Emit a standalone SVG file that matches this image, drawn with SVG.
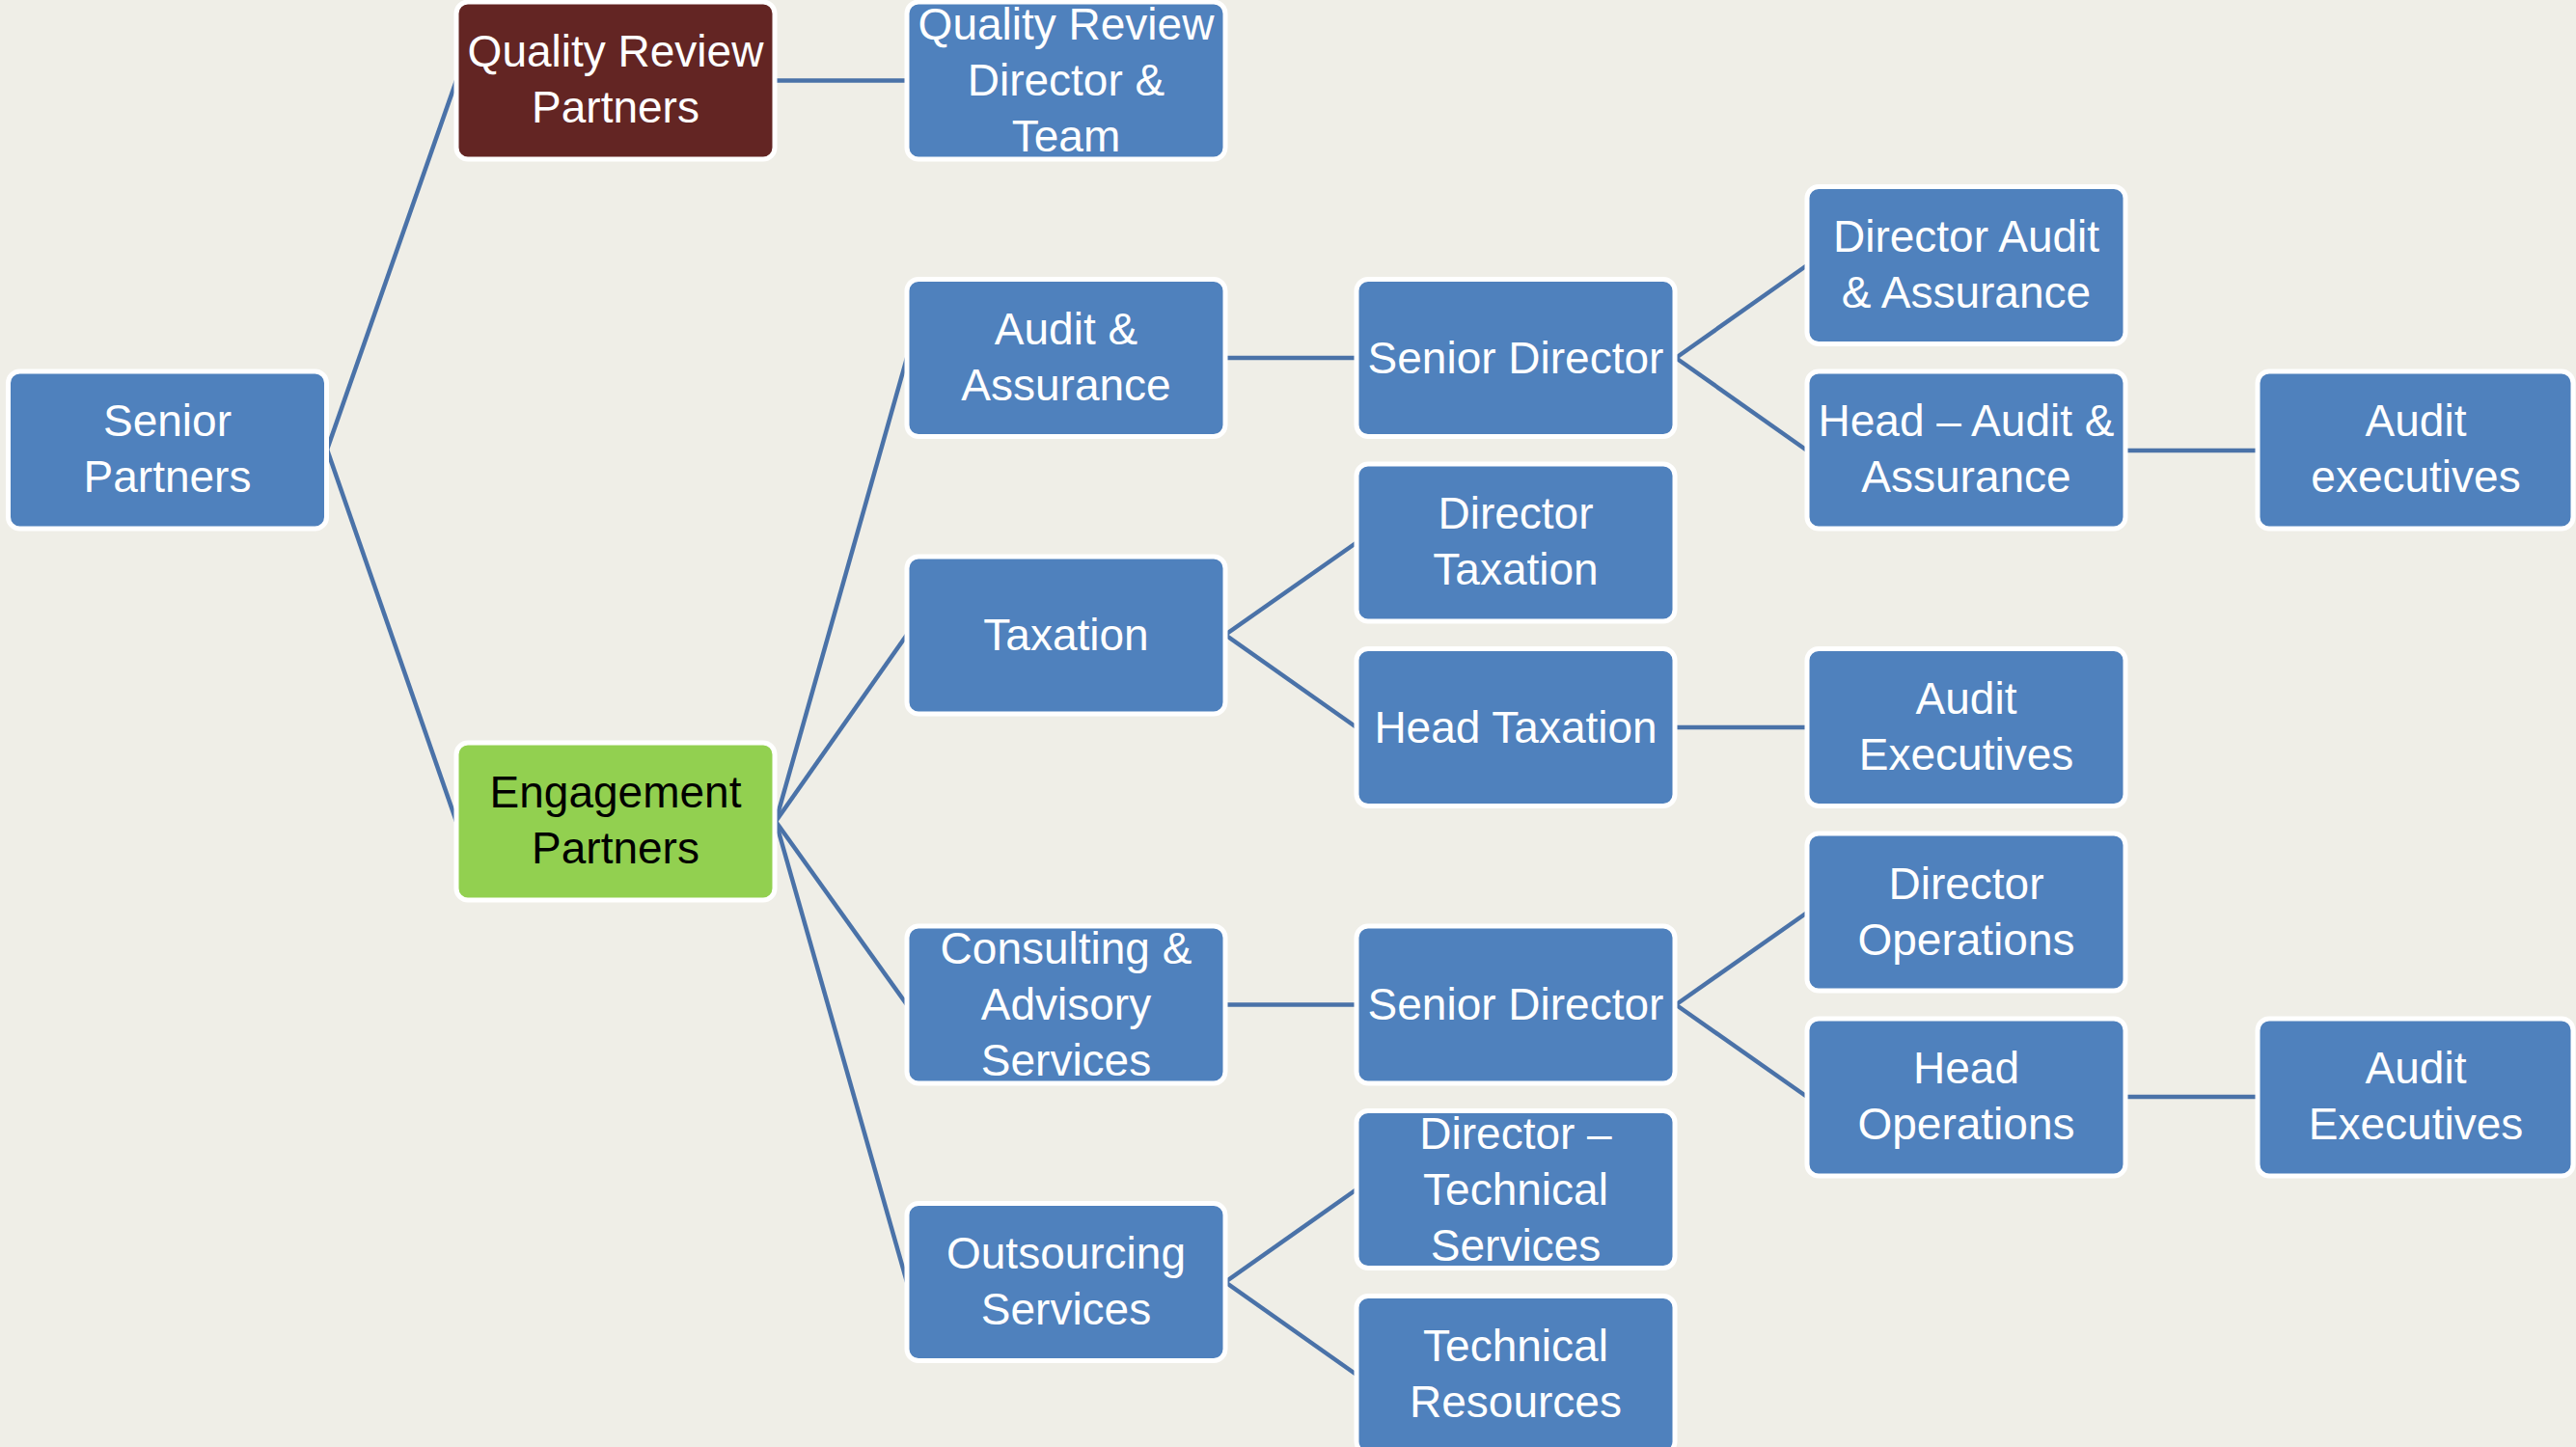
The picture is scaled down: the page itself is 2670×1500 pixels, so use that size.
<svg xmlns="http://www.w3.org/2000/svg" width="2670" height="1500" viewBox="0 0 2670 1500">
<style>
.b{fill:#4F81BD;stroke:#FFFFFF;stroke-width:5}
.r{fill:#632523;stroke:#FFFFFF;stroke-width:5}
.g{fill:#92D050;stroke:#FFFFFF;stroke-width:5}
text{font-family:"Liberation Sans",Arial,sans-serif;font-size:46px;fill:#FFFFFF;text-anchor:middle}
.k{fill:#000000}
.c line{stroke:#4A72A8;stroke-width:4.5}
</style>
<rect width="2670" height="1500" fill="#EFEEE7"/>
<g class="c" id="connectors">
<line x1="339" y1="466" x2="473" y2="83.5"/>
<line x1="339" y1="466" x2="473" y2="851.5"/>
<line x1="804" y1="83.5" x2="940" y2="83.5"/>
<line x1="804" y1="851.5" x2="940" y2="371"/>
<line x1="804" y1="851.5" x2="940" y2="658"/>
<line x1="804" y1="851.5" x2="940" y2="1041.5"/>
<line x1="804" y1="851.5" x2="940" y2="1329"/>
<line x1="1270" y1="371" x2="1406" y2="371"/>
<line x1="1270" y1="658" x2="1406" y2="562.5"/>
<line x1="1270" y1="658" x2="1406" y2="754"/>
<line x1="1270" y1="1041.5" x2="1406" y2="1041.5"/>
<line x1="1270" y1="1329" x2="1406" y2="1233"/>
<line x1="1270" y1="1329" x2="1406" y2="1425"/>
<line x1="1737" y1="371" x2="1873" y2="275"/>
<line x1="1737" y1="371" x2="1873" y2="467"/>
<line x1="2203" y1="467" x2="2340" y2="467"/>
<line x1="1737" y1="754" x2="1873" y2="754"/>
<line x1="1737" y1="1041.5" x2="1873" y2="946"/>
<line x1="1737" y1="1041.5" x2="1873" y2="1137"/>
<line x1="2203" y1="1137" x2="2340" y2="1137"/>
</g>
<g id="senior-partners"><rect class="b" x="8.5" y="385" width="330" height="163" rx="12"/><text x="173.5" y="452">Senior</text><text x="173.5" y="510">Partners</text></g>
<g id="quality-review-partners"><rect class="r" x="473" y="2" width="330" height="163" rx="12"/><text x="638" y="69">Quality Review</text><text x="638" y="127">Partners</text></g>
<g id="engagement-partners"><rect class="g" x="473" y="770" width="330" height="163" rx="12"/><text class="k" x="638" y="837">Engagement</text><text class="k" x="638" y="895">Partners</text></g>
<g id="qr-director"><rect class="b" x="940" y="2" width="330" height="163" rx="12"/><text x="1105" y="41">Quality Review</text><text x="1105" y="99">Director &amp;</text><text x="1105" y="157">Team</text></g>
<g id="audit-assurance"><rect class="b" x="940" y="289.5" width="330" height="163" rx="12"/><text x="1105" y="357">Audit &amp;</text><text x="1105" y="415">Assurance</text></g>
<g id="taxation"><rect class="b" x="940" y="577" width="330" height="163" rx="12"/><text x="1105" y="674">Taxation</text></g>
<g id="consulting"><rect class="b" x="940" y="960" width="330" height="163" rx="12"/><text x="1105" y="999">Consulting &amp;</text><text x="1105" y="1057">Advisory</text><text x="1105" y="1115">Services</text></g>
<g id="outsourcing"><rect class="b" x="940" y="1247.5" width="330" height="163" rx="12"/><text x="1105" y="1315">Outsourcing</text><text x="1105" y="1373">Services</text></g>
<g id="senior-director-1"><rect class="b" x="1406" y="289.5" width="330" height="163" rx="12"/><text x="1571" y="387">Senior Director</text></g>
<g id="director-taxation"><rect class="b" x="1406" y="481" width="330" height="163" rx="12"/><text x="1571" y="548">Director</text><text x="1571" y="606">Taxation</text></g>
<g id="head-taxation"><rect class="b" x="1406" y="672.5" width="330" height="163" rx="12"/><text x="1571" y="770">Head Taxation</text></g>
<g id="senior-director-2"><rect class="b" x="1406" y="960" width="330" height="163" rx="12"/><text x="1571" y="1057">Senior Director</text></g>
<g id="director-technical"><rect class="b" x="1406" y="1151.5" width="330" height="163" rx="12"/><text x="1571" y="1191">Director –</text><text x="1571" y="1249">Technical</text><text x="1571" y="1307">Services</text></g>
<g id="technical-resources"><rect class="b" x="1406" y="1343.5" width="330" height="163" rx="12"/><text x="1571" y="1411">Technical</text><text x="1571" y="1469">Resources</text></g>
<g id="director-audit"><rect class="b" x="1873" y="193.5" width="330" height="163" rx="12"/><text x="2038" y="261">Director Audit</text><text x="2038" y="319">&amp; Assurance</text></g>
<g id="head-audit"><rect class="b" x="1873" y="385" width="330" height="163" rx="12"/><text x="2038" y="452">Head – Audit &amp;</text><text x="2038" y="510">Assurance</text></g>
<g id="audit-executives-tax"><rect class="b" x="1873" y="672.5" width="330" height="163" rx="12"/><text x="2038" y="740">Audit</text><text x="2038" y="798">Executives</text></g>
<g id="director-operations"><rect class="b" x="1873" y="864" width="330" height="163" rx="12"/><text x="2038" y="932">Director</text><text x="2038" y="990">Operations</text></g>
<g id="head-operations"><rect class="b" x="1873" y="1056" width="330" height="163" rx="12"/><text x="2038" y="1123">Head</text><text x="2038" y="1181">Operations</text></g>
<g id="audit-executives-1"><rect class="b" x="2340" y="385" width="327" height="163" rx="12"/><text x="2504" y="452">Audit</text><text x="2504" y="510">executives</text></g>
<g id="audit-executives-2"><rect class="b" x="2340" y="1056" width="327" height="163" rx="12"/><text x="2504" y="1123">Audit</text><text x="2504" y="1181">Executives</text></g>
</svg>
